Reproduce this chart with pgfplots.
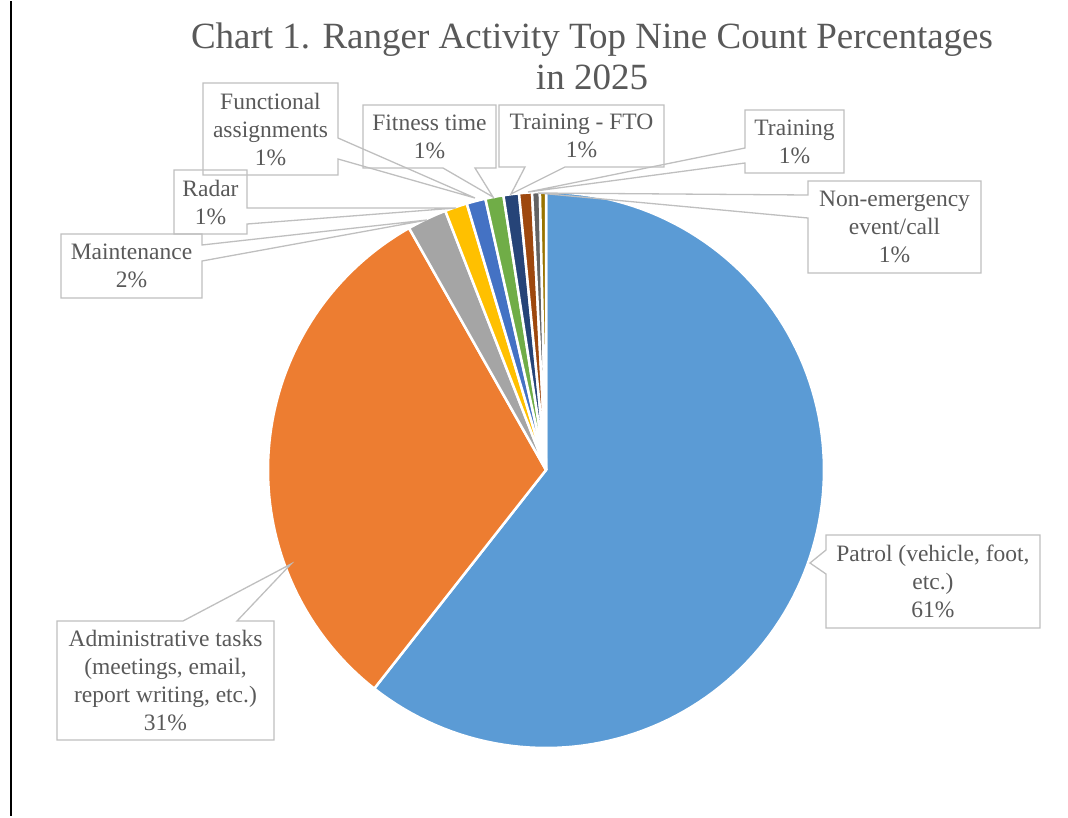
\documentclass[border=0pt]{standalone}
\usepackage{fontspec}
\setmainfont{Liberation Serif}
\usepackage{pgfplots}
\pgfplotsset{compat=1.18}
\definecolor{cPatrol}{HTML}{5B9BD5}
\definecolor{cAdmin}{HTML}{ED7D31}
\definecolor{cMaint}{HTML}{A5A5A5}
\definecolor{cRadar}{HTML}{FFC000}
\definecolor{cFunc}{HTML}{4472C4}
\definecolor{cFit}{HTML}{70AD47}
\definecolor{cFTO}{HTML}{264478}
\definecolor{cTrain}{HTML}{9E480E}
\definecolor{cNonEm}{HTML}{636363}
\definecolor{cOther}{HTML}{997300}
\definecolor{txt}{HTML}{595959}
\definecolor{boxc}{HTML}{BFBFBF}
% #1 = cumulative start (percent), #2 = value (percent), #3 = colour
\newcommand{\pieslice}[3]{%
  \pgfmathsetmacro\angA{90-3.6*(#1+#2)}%
  \pgfmathsetmacro\angB{90-3.6*(#1)}%
  \addplot[fill=#3, draw=white, line width=2.5pt, line join=round,
    domain=\angA:\angB, samples=120, variable=\t]
    ({546+278*cos(\t)},{469-278*sin(\t)}) -- (546,469) -- cycle;%
}
\begin{document}
\begin{tikzpicture}
\begin{axis}[width=1068pt, height=815pt, scale only axis,
  xmin=0, xmax=1068, ymin=0, ymax=815, y dir=reverse,
  hide axis, clip=false]
\path (0,0) rectangle (1068,815);
% slices: start, value
\pieslice{0}{60.6}{cPatrol}
\pieslice{60.6}{31.2}{cAdmin}
\pieslice{91.8}{2.3}{cMaint}
\pieslice{94.1}{1.3}{cRadar}
\pieslice{95.4}{1.1}{cFunc}
\pieslice{96.5}{1.05}{cFit}
\pieslice{97.55}{0.9}{cFTO}
\pieslice{98.45}{0.75}{cTrain}
\pieslice{99.2}{0.45}{cNonEm}
\pieslice{99.65}{0.35}{cOther}
% left rule
\draw[black, line width=2pt] (11,0) -- (11,815);
% title
\node[txt, align=center, font=\fontsize{37}{41}\selectfont] at (592,55)
  {Chart 1. Ranger Activity Top Nine Count Percentages\\in 2025};
% callout boxes
\begin{scope}[boxc, line width=1.3pt, line join=miter]
\draw (61,233) -- (202,233) -- (202,244) -- (427,219) -- (202,260) -- (202,297) -- (61,297) -- cycle;
\draw (174,169) -- (247,169) -- (247,207) -- (456,207) -- (247,223) -- (247,233) -- (174,233) -- cycle;
\draw (203,82) -- (338,82) -- (338,137) -- (475,197) -- (338,158) -- (338,174) -- (203,174) -- cycle;
\draw (363,104) -- (496,104) -- (496,167) -- (475,167) -- (493,196) -- (443,167) -- (363,167) -- cycle;
\draw (499,104) -- (664,104) -- (664,166) -- (565,166) -- (511,193) -- (525,166) -- (499,166) -- cycle;
\draw (745,109) -- (844,109) -- (844,172) -- (745,172) -- (745,162) -- (528,191) -- (745,147) -- cycle;
\draw (808,180) -- (981,180) -- (981,272) -- (808,272) -- (808,217) -- (538,192) -- (808,194) -- cycle;
\draw (826,534) -- (1040,534) -- (1040,627) -- (826,627) -- (826,573) -- (810,562) -- (826,549) -- cycle;
\draw (57,620) -- (183,620) -- (291,563) -- (237,620) -- (274,620) -- (274,739) -- (57,739) -- cycle;
\end{scope}
% labels
\begin{scope}[every node/.style={txt, align=center, font=\fontsize{23.5}{28}\selectfont}]
\node at (270.5,128) {Functional\\assignments\\1\%};
\node at (429.5,135.5) {Fitness time\\1\%};
\node at (581.5,135) {Training - FTO\\1\%};
\node at (794.5,140.5) {Training\\1\%};
\node at (894.5,226) {Non-emergency\\event/call\\1\%};
\node at (210.5,201) {Radar\\1\%};
\node at (131.5,265) {Maintenance\\2\%};
\node at (933,580.5) {Patrol (vehicle, foot,\\etc.)\\61\%};
\node at (165.5,679.5) {Administrative tasks\\(meetings, email,\\report writing, etc.)\\31\%};
\end{scope}
\end{axis}
\end{tikzpicture}
\end{document}
